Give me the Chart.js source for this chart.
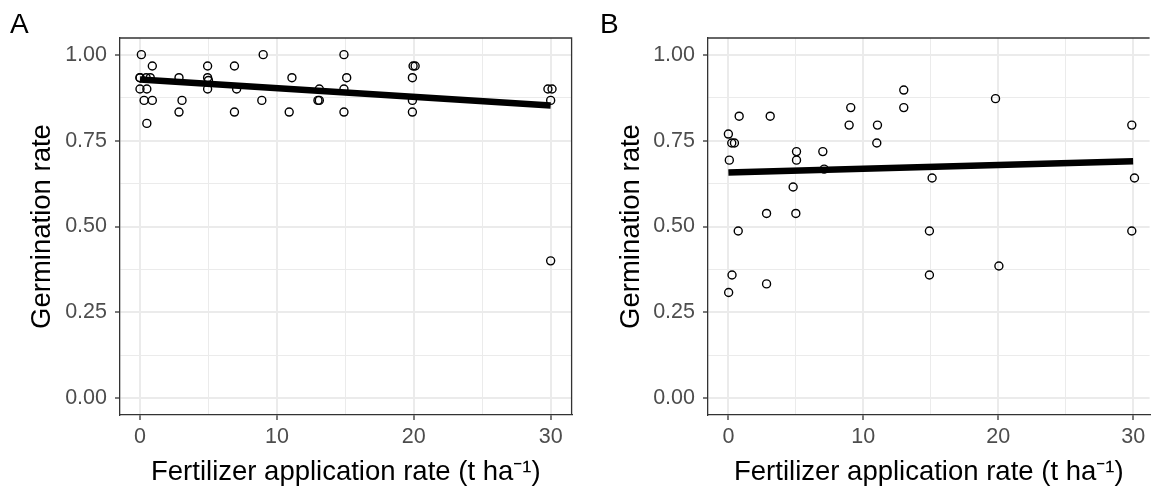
<!DOCTYPE html>
<html><head><meta charset="utf-8">
<script src="https://cdn.jsdelivr.net/npm/chart.js@4"></script>
<style>
html,body{margin:0;padding:0;background:#fff;overflow:hidden;width:1155px;height:489px;}
#wa{position:absolute;left:0;top:0;width:577px;height:489px;}
#wb{position:absolute;left:590px;top:0;width:565px;height:489px;}
</style></head><body>
<div id="wa"><canvas id="ca"></canvas></div>
<div id="wb"><canvas id="cb"></canvas></div>
<script>
// ---- data ----
const panelTags = ['A', 'B'];
const xTitle = 'Fertilizer application rate (t ha\u207B\u00B9)';
const yTitle = 'Germination rate';
const xMajor = [0, 10, 20, 30];
const xMinor = [5, 15, 25];
const yMajor = [0, 0.25, 0.5, 0.75, 1];
const yMinor = [0.125, 0.375, 0.625, 0.875];

const rateA = [0.1, 0, 0, 0.45, 0.75, 0, 0.5, 0.3, 0.9, 0.9, 0.5,
  2.85, 3.07, 2.85,
  4.94, 4.94, 5.0, 4.94,
  6.9, 7.06, 6.9,
  9.0, 8.9,
  11.1, 10.9,
  13.1, 13.0, 13.1,
  14.9, 15.1, 14.9, 14.9,
  19.95, 20.1, 19.9, 19.9, 19.9,
  29.8, 30.1, 30.0, 30.0];
const germA = [1.0, 0.933, 0.9, 0.933, 0.933, 0.933, 0.9, 0.867, 0.867, 0.967, 0.8,
  0.933, 0.867, 0.833,
  0.967, 0.933, 0.925, 0.9,
  0.967, 0.9, 0.833,
  1.0, 0.867,
  0.933, 0.833,
  0.9, 0.867, 0.867,
  1.0, 0.933, 0.9, 0.833,
  0.967, 0.967, 0.933, 0.867, 0.833,
  0.9, 0.9, 0.867, 0.4];

const rateB = [0.0, 0.25, 0.45, 0.07, 0.8, 3.1, 5.05, 5.05, 4.8, 2.83, 5.0,
  7.0, 7.1, 8.95, 9.07, 11.05, 11.0, 13.0, 13.0, 15.1, 19.8, 29.9, 30.1,
  0.73, 14.9, 29.9, 0.27, 0.02, 2.83, 14.9, 20.05];
const germB = [0.769, 0.743, 0.743, 0.693, 0.821, 0.821, 0.718, 0.693, 0.615, 0.538, 0.538,
  0.718, 0.667, 0.795, 0.846, 0.795, 0.743, 0.897, 0.846, 0.641, 0.872, 0.795, 0.641,
  0.487, 0.487, 0.487, 0.359, 0.308, 0.333, 0.359, 0.385];

const fitRateA = [0, 30];
const fitGermA = [0.928, 0.852];
const fitRateB = [0, 30];
const fitGermB = [0.657, 0.690];

// ---- chart ----
const FONT = "'Liberation Sans', Arial, Helvetica, sans-serif";
const isMajor = (arr, v) => arr.some(m => Math.abs(m - v) < 1e-9);

const framePlugin = {
  id: 'frame',
  afterDraw(chart, args, opts) {
    const {ctx, chartArea: {left, top, right, bottom}} = chart;
    ctx.save();
    ctx.strokeStyle = '#333333';
    ctx.lineWidth = 1.3;
    ctx.beginPath();
    ctx.moveTo(left, top);
    ctx.lineTo(right, top);
    if (opts.right) ctx.lineTo(right, bottom);
    ctx.stroke();
    ctx.restore();
  }
};

function makeChart(id, tag, xs, ys, fx, fy, cfg) {
  const pts = xs.map((x, i) => ({x: x, y: ys[i]}));
  const fit = fx.map((x, i) => ({x: x, y: fy[i]}));
  return new Chart(document.getElementById(id), {
    type: 'scatter',
    data: {
      datasets: [
        {type: 'line', data: fit, borderColor: '#000', borderWidth: 6.5, borderCapStyle: 'butt',
         pointRadius: 0, fill: false, order: 0},
        {data: pts, pointStyle: 'circle', pointRadius: 4, pointBorderWidth: 1.4,
         borderColor: '#000', backgroundColor: 'rgba(0,0,0,0)', pointHoverRadius: 4, order: 1}
      ]
    },
    options: {
      responsive: true, maintainAspectRatio: false, animation: false,
      layout: {padding: {left: 10, right: cfg.padRight, top: 0, bottom: 0}},
      plugins: {
        legend: {display: false}, tooltip: {enabled: false},
        title: {display: true, text: tag, align: 'start', color: '#000',
          font: {family: FONT, size: 28, weight: 'normal', lineHeight: 0.8},
          padding: {top: 14, bottom: 1.6}},
        frame: {right: cfg.frameRight}
      },
      scales: {
        x: {
          type: 'linear', min: cfg.xMin, max: cfg.xMax,
          afterBuildTicks: s => { s.ticks = xMajor.concat(xMinor).sort((a, b) => a - b).map(v => ({value: v})); },
          afterFit: s => { s.height = 74; },
          ticks: {color: '#4D4D4D', font: {family: FONT, size: 21.5}, padding: 4, maxRotation: 0,
            autoSkip: false, callback: v => isMajor(xMajor, v) ? String(v) : ''},
          grid: {color: '#EBEBEB', lineWidth: c => (c.tick && isMajor(xMajor, c.tick.value)) ? 2 : 1,
            tickLength: 5, tickWidth: 1.3,
            tickColor: c => (c.tick && isMajor(xMajor, c.tick.value)) ? '#333333' : 'rgba(0,0,0,0)'},
          border: {display: true, color: '#333333', width: 1.3},
          title: {display: true, text: xTitle, color: '#000', font: {family: FONT, size: 27.5},
            padding: {top: 0, bottom: 0}}
        },
        y: {
          type: 'linear', min: -0.0485, max: 1.0485,
          afterBuildTicks: s => { s.ticks = yMajor.concat(yMinor).sort((a, b) => a - b).map(v => ({value: v})); },
          afterFit: s => { s.width = cfg.yWidth; },
          ticks: {color: '#4D4D4D', font: {family: FONT, size: 21.5}, padding: 8,
            autoSkip: false, callback: v => isMajor(yMajor, v) ? v.toFixed(2) : ''},
          grid: {color: '#EBEBEB', lineWidth: c => (c.tick && isMajor(yMajor, c.tick.value)) ? 2 : 1,
            tickLength: 5, tickWidth: 1.3,
            tickColor: c => (c.tick && isMajor(yMajor, c.tick.value)) ? '#333333' : 'rgba(0,0,0,0)'},
          border: {display: true, color: '#333333', width: 1.3},
          title: {display: true, text: yTitle, color: '#000', font: {family: FONT, size: 27.5},
            padding: {top: cfg.yTitlePad, bottom: 0}}
        }
      }
    },
    plugins: [framePlugin]
  });
}

makeChart('ca', panelTags[0], rateA, germA, fitRateA, fitGermA,
  {padRight: 5, frameRight: true, xMin: -1.46, xMax: 31.53, yWidth: 110, yTitlePad: 16});
makeChart('cb', panelTags[1], rateB, germB, fitRateB, fitGermB,
  {padRight: 0, frameRight: false, xMin: -1.51, xMax: 31.22, yWidth: 108, yTitlePad: 14.5});
</script>
</body></html>
